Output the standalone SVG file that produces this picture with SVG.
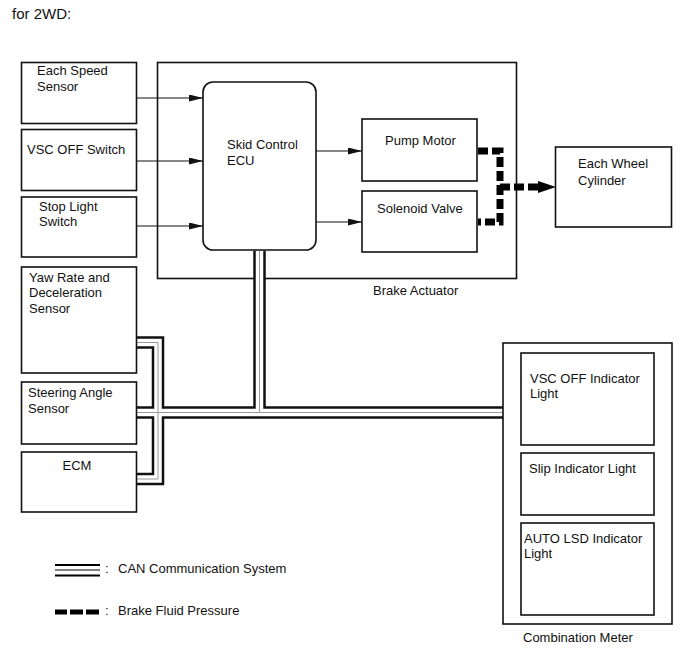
<svg xmlns="http://www.w3.org/2000/svg" width="690" height="659" viewBox="0 0 690 659">
<style>
  .box{fill:#fff;stroke:#111;stroke-width:1.6}
  .t{font-family:"Liberation Sans",Arial,sans-serif;font-size:13px;fill:#111}
  .sig{stroke:#111;stroke-width:1.1;fill:none;marker-end:url(#ah)}
  .can-o{stroke:#111;stroke-width:12.5;fill:none;stroke-linejoin:miter}
  .can-w{stroke:#fff;stroke-width:7.5;fill:none;stroke-linejoin:miter}
  .can-c{stroke:#999;stroke-width:1;fill:none;stroke-linejoin:miter}
  .fluid{stroke:#000;stroke-width:7;fill:none;stroke-dasharray:10 4}
</style>
<defs>
  <marker id="ah" markerUnits="userSpaceOnUse" markerWidth="14" markerHeight="8" refX="14" refY="3.5" orient="auto">
    <path d="M0,0 L14,3.5 L0,7 z" fill="#111"/>
  </marker>
  <marker id="bigah" markerUnits="userSpaceOnUse" markerWidth="18" markerHeight="13" refX="0" refY="6" orient="auto">
    <path d="M0,0 L18,6 L0,12 z" fill="#000"/>
  </marker>
</defs>
<rect width="690" height="659" fill="#fff"/>
<text class="t" x="12" y="19" style="font-size:15px">for 2WD:</text>

<g id="brake-actuator">
  <rect class="box" x="157.5" y="62.5" width="359" height="216"/>
  <text class="t" x="373" y="295">Brake Actuator</text>
</g>

<g id="connectors">
  <path class="sig" d="M137,98 H203"/>
  <path class="sig" d="M137,161 H203"/>
  <path class="sig" d="M137,226 H203"/>
  <path class="sig" d="M316,151 H362"/>
  <path class="sig" d="M316,222 H362"/>
  <path class="fluid" d="M478,151 H500 V222 H478"/>
  <path class="fluid" d="M500,187 H538" style="marker-end:url(#bigah)"/>
  <g id="can-bus">
    <path class="can-o" d="M137,342.5 H158 V479 H137"/>
    <path class="can-o" d="M137,412.5 H503"/>
    <path class="can-o" d="M259.5,250.8 V412.5"/>
    <path class="can-w" d="M137,342.5 H158 V479 H137"/>
    <path class="can-w" d="M137,412.5 H503"/>
    <path class="can-w" d="M259.5,250.8 V412.5"/>
    <path class="can-c" d="M137,342.5 H158 V479 H137"/>
    <path class="can-c" d="M137,412.5 H503"/>
    <path class="can-c" d="M259.5,250.8 V412.5"/>
  </g>
</g>

<g id="each-speed-sensor">
  <rect class="box" x="21.5" y="62.5" width="115" height="61"/>
  <text class="t" x="37" y="75">Each Speed</text>
  <text class="t" x="37" y="91">Sensor</text>
</g>
<g id="vsc-off-switch">
  <rect class="box" x="21.5" y="129.5" width="115" height="61"/>
  <text class="t" x="27" y="154">VSC OFF Switch</text>
</g>
<g id="stop-light-switch">
  <rect class="box" x="21.5" y="197" width="115" height="60"/>
  <text class="t" x="39" y="211">Stop Light</text>
  <text class="t" x="39" y="226">Switch</text>
</g>
<g id="yaw-rate-sensor">
  <rect class="box" x="21.5" y="267" width="115" height="106"/>
  <text class="t" x="29" y="282">Yaw Rate and</text>
  <text class="t" x="29" y="297">Deceleration</text>
  <text class="t" x="29" y="313">Sensor</text>
</g>
<g id="steering-angle-sensor">
  <rect class="box" x="21.5" y="382" width="115" height="62"/>
  <text class="t" x="28" y="397">Steering Angle</text>
  <text class="t" x="28" y="413">Sensor</text>
</g>
<g id="ecm">
  <rect class="box" x="21.5" y="452" width="115" height="60"/>
  <text class="t" x="77" y="470" text-anchor="middle">ECM</text>
</g>
<g id="skid-control-ecu">
  <rect class="box" x="203" y="82" width="113" height="168" rx="10"/>
  <text class="t" x="227" y="149">Skid Control</text>
  <text class="t" x="227" y="165">ECU</text>
</g>
<g id="pump-motor">
  <rect class="box" x="362" y="119" width="115" height="62"/>
  <text class="t" x="385" y="145">Pump Motor</text>
</g>
<g id="solenoid-valve">
  <rect class="box" x="362" y="191" width="115" height="61"/>
  <text class="t" x="377" y="213">Solenoid Valve</text>
</g>
<g id="each-wheel-cylinder">
  <rect class="box" x="555.5" y="147" width="116" height="80"/>
  <text class="t" x="578" y="168">Each Wheel</text>
  <text class="t" x="578" y="185">Cylinder</text>
</g>
<g id="combination-meter">
  <rect class="box" x="503" y="343" width="169" height="281"/>
  <text class="t" x="523" y="642">Combination Meter</text>
</g>
<g id="vsc-off-indicator">
  <rect class="box" x="521" y="353" width="133" height="92"/>
  <text class="t" x="530" y="383">VSC OFF Indicator</text>
  <text class="t" x="530" y="398">Light</text>
</g>
<g id="slip-indicator">
  <rect class="box" x="521" y="453" width="133" height="62"/>
  <text class="t" x="529" y="473">Slip Indicator Light</text>
</g>
<g id="auto-lsd-indicator">
  <rect class="box" x="521" y="523" width="133" height="92"/>
  <text class="t" x="524" y="543">AUTO LSD Indicator</text>
  <text class="t" x="524" y="558">Light</text>
</g>

<g id="legend">
  <line x1="55" y1="565" x2="100" y2="565" stroke="#000" stroke-width="2.2"/>
  <line x1="55" y1="570" x2="100" y2="570" stroke="#000" stroke-width="1.2"/>
  <line x1="55" y1="575.5" x2="100" y2="575.5" stroke="#000" stroke-width="2.2"/>
  <text class="t" x="105" y="573">:</text>
  <text class="t" x="118" y="573">CAN Communication System</text>
  <rect x="55" y="609.5" width="12" height="5" fill="#000"/>
  <rect x="70" y="609.5" width="13" height="5" fill="#000"/>
  <rect x="86" y="609.5" width="13" height="5" fill="#000"/>
  <text class="t" x="105" y="615">:</text>
  <text class="t" x="118" y="615">Brake Fluid Pressure</text>
</g>
</svg>
